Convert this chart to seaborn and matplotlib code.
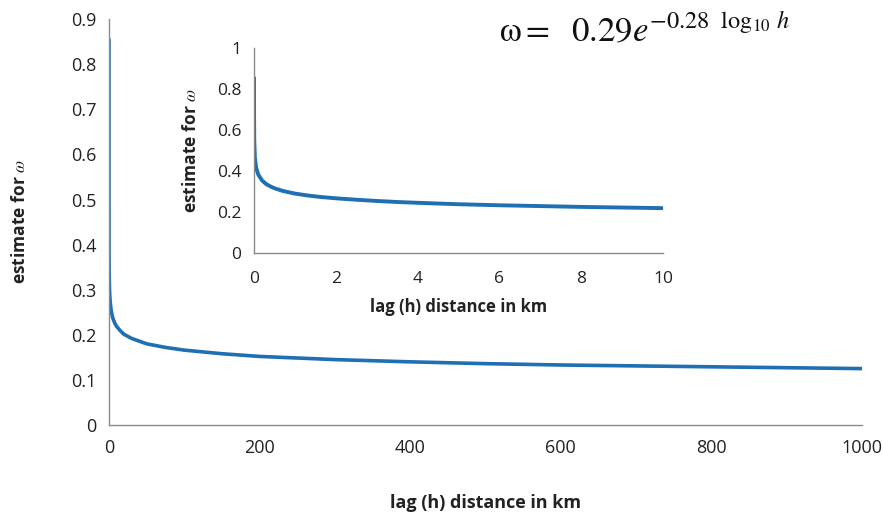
import matplotlib
matplotlib.use("Agg")
import matplotlib.pyplot as plt
import seaborn as sns
import pandas as pd

# lag distance (km) and the fitted estimate for omega at each lag
lag_km = [0.00014, 0.001, 0.005, 0.02, 0.05, 0.1, 0.15, 0.2, 0.3, 0.4, 0.5, 0.7, 1, 1.3,
          1.6, 2, 2.5, 3, 3.5, 4, 5, 6, 7, 8, 9, 10,
          15, 20, 30, 50, 75, 100, 150, 200, 300, 400, 500, 600, 700, 800, 900, 1000]
omega = [0.855, 0.672, 0.552, 0.467, 0.417, 0.384, 0.368, 0.353, 0.336, 0.325, 0.316,
         0.303, 0.290, 0.281, 0.274, 0.267, 0.260, 0.254, 0.249, 0.245, 0.238, 0.233,
         0.229, 0.225, 0.222, 0.219, 0.209, 0.201, 0.192, 0.180, 0.172,
         0.166, 0.158, 0.152, 0.145, 0.140, 0.136, 0.133, 0.131, 0.129, 0.127, 0.125]

main_xticks = [0, 200, 400, 600, 800, 1000]
main_yticks = [0, 0.1, 0.2, 0.3, 0.4, 0.5, 0.6, 0.7, 0.8, 0.9]
inset_xticks = [0, 2, 4, 6, 8, 10]
inset_yticks = [0, 0.2, 0.4, 0.6, 0.8, 1]

sns.set_style("white")
plt.rcParams["font.family"] = ["Open Sans", "DejaVu Sans"]
plt.rcParams["mathtext.fontset"] = "stix"

LINE = "#1f6fb3"
SPINE = "#8a8a8a"
TEXT = "#222222"
SANS = ["Open Sans", "DejaVu Sans"]

df = pd.DataFrame({"lag": lag_km, "omega": omega})
df_inset = df[df["lag"] <= 10]

fig = plt.figure(figsize=(8.83, 5.17), dpi=100)
ax = fig.add_axes([0.1234, 0.178, 0.8526, 0.785])
sns.lineplot(data=df, x="lag", y="omega", ax=ax, color=LINE, linewidth=2.6)

ax_in = fig.add_axes([0.2877, 0.5106, 0.4633, 0.3964])
sns.lineplot(data=df_inset, x="lag", y="omega", ax=ax_in, color=LINE, linewidth=2.8)


def style(a, xt, yt, ylim, xlim, size, xpad):
    a.set_xlim(*xlim)
    a.set_ylim(*ylim)
    a.set_xticks(xt)
    a.set_yticks(yt)
    a.set_xticklabels([f"{v:g}" for v in xt], family=SANS, fontsize=size, color=TEXT)
    a.set_yticklabels([f"{v:g}" for v in yt], family=SANS, fontsize=size, color=TEXT)
    for s in ("top", "right"):
        a.spines[s].set_visible(False)
    for s in ("left", "bottom"):
        a.spines[s].set_color(SPINE)
        a.spines[s].set_linewidth(1.0)
    a.tick_params(axis="both", which="major", length=5, width=1.0, color=SPINE,
                  direction="out", pad=4)
    a.tick_params(axis="x", pad=xpad)
    a.set_facecolor("none")


style(ax, main_xticks, main_yticks, (0, 0.9), (0, 1000), 13, 5)
style(ax_in, inset_xticks, inset_yticks, (0, 1), (0, 10), 12.5, 8)

ax.set_xlabel("lag (h) distance in km", family=SANS, fontstretch="condensed",
              fontweight="bold", fontsize=13, color=TEXT, labelpad=27)
ax.set_ylabel(r"estimate for $\omega$", fontweight="bold", fontsize=12.5, color=TEXT,
              labelpad=30)
ax_in.set_xlabel("lag (h) distance in km", fontweight="bold", fontsize=12, color=TEXT,
                 labelpad=8)
ax_in.set_ylabel(r"estimate for $\omega$", fontweight="bold", fontsize=12.5, color=TEXT,
                 labelpad=12)

fig.text(0.565, 0.94, r"$\mathrm{\omega} = \ \ 0.29e^{-0.28\ \ \log_{10}\, h}$", fontsize=25,
         color="#111111", va="center", ha="left")

fig.savefig("out.png", dpi=100, facecolor="white")
